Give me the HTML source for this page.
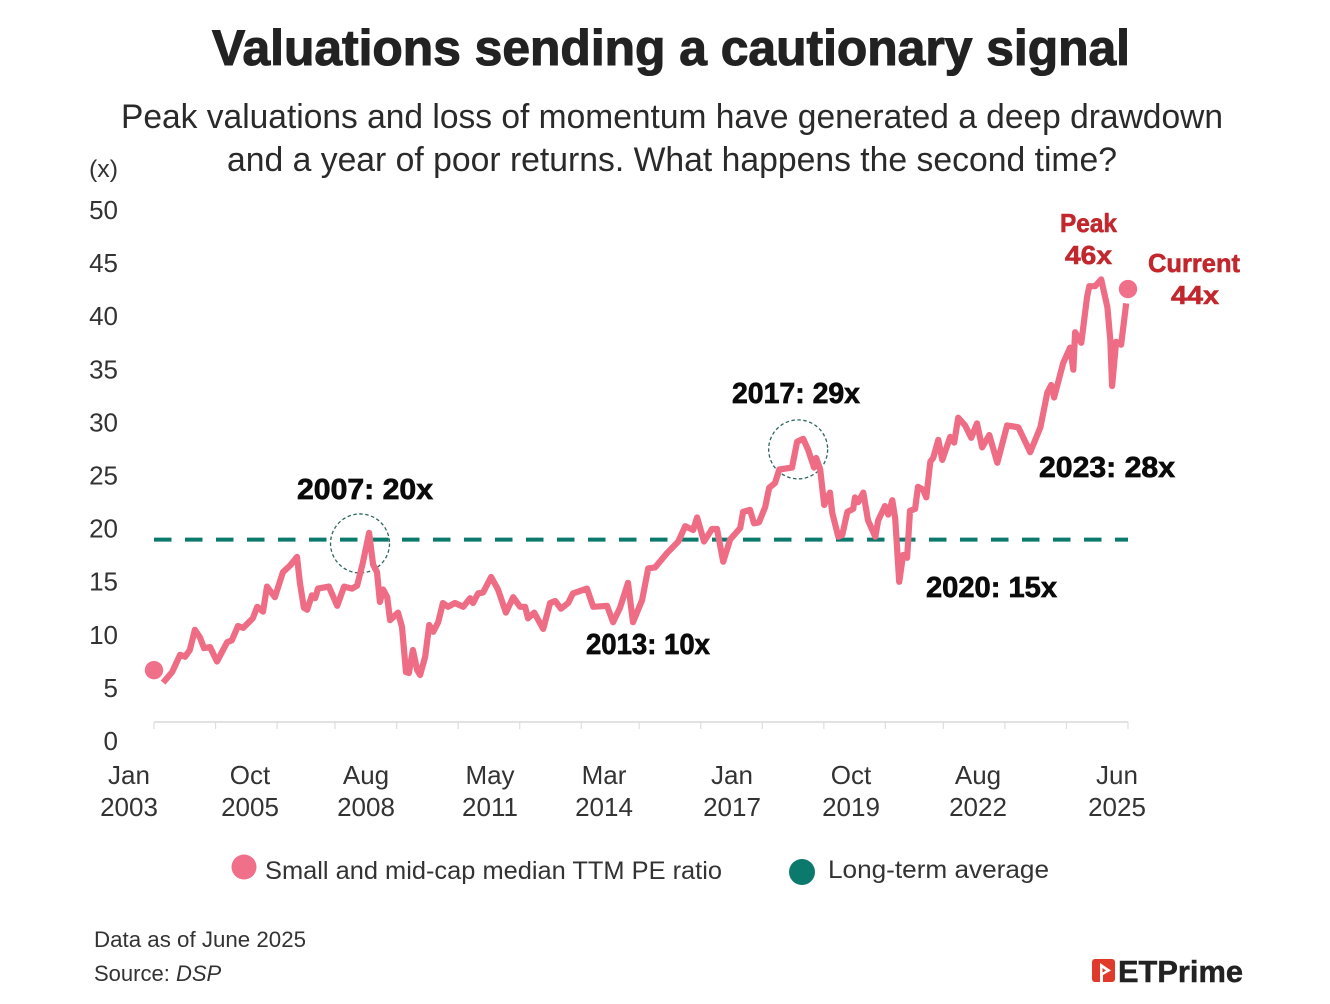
<!DOCTYPE html>
<html lang="en">
<head>
<meta charset="utf-8">
<title>Valuations sending a cautionary signal</title>
<style>
  html, body { margin: 0; padding: 0; background: #fff; }
  body { width: 1330px; height: 1004px; overflow: hidden; }
  svg { display: block; font-family: "Liberation Sans", sans-serif; }
  .tick { font-size: 26px; fill: #333; }
  .note { font-size: 29px; font-weight: 700; fill: #0b0b0b; stroke: #0b0b0b; stroke-width: 0.7px; }
  .red { font-size: 26px; font-weight: 700; fill: #c1272d; stroke: #c1272d; stroke-width: 0.6px; }
</style>
</head>
<body>
<svg id="chart" xmlns="http://www.w3.org/2000/svg" width="1330" height="1004" viewBox="0 0 1330 1004">
  <text x="212" y="65" textLength="918" lengthAdjust="spacingAndGlyphs" font-size="50" font-weight="700" fill="#222" stroke="#222" stroke-width="1.1">Valuations sending a cautionary signal</text>
  <text x="121" y="128" textLength="1102" lengthAdjust="spacingAndGlyphs" font-size="34" fill="#2a2a2a">Peak valuations and loss of momentum have generated a deep drawdown</text>
  <text x="227" y="171" textLength="890" lengthAdjust="spacingAndGlyphs" font-size="34" fill="#2a2a2a">and a year of poor returns. What happens the second time?</text>
  <text x="89" y="177" textLength="29" lengthAdjust="spacingAndGlyphs" font-size="24" fill="#333">(x)</text>

  <g id="y-labels"></g>
  <g id="axis"></g>
  <g id="marks"></g>

  <g text-anchor="middle" class="tick">
    <text class="tick" x="129" y="784">Jan</text>
    <text class="tick" x="129" y="816">2003</text>
    <text class="tick" x="250" y="784">Oct</text>
    <text class="tick" x="250" y="816">2005</text>
    <text class="tick" x="366" y="784">Aug</text>
    <text class="tick" x="366" y="816">2008</text>
    <text class="tick" x="490" y="784">May</text>
    <text class="tick" x="490" y="816">2011</text>
    <text class="tick" x="604" y="784">Mar</text>
    <text class="tick" x="604" y="816">2014</text>
    <text class="tick" x="732" y="784">Jan</text>
    <text class="tick" x="732" y="816">2017</text>
    <text class="tick" x="851" y="784">Oct</text>
    <text class="tick" x="851" y="816">2019</text>
    <text class="tick" x="978" y="784">Aug</text>
    <text class="tick" x="978" y="816">2022</text>
    <text class="tick" x="1117" y="784">Jun</text>
    <text class="tick" x="1117" y="816">2025</text>
  </g>

  <text class="note" x="297" y="499" textLength="136" lengthAdjust="spacingAndGlyphs">2007: 20x</text>
  <text class="note" x="732" y="403" textLength="128" lengthAdjust="spacingAndGlyphs">2017: 29x</text>
  <text class="note" x="586" y="654" textLength="124" lengthAdjust="spacingAndGlyphs">2013: 10x</text>
  <text class="note" x="926" y="597" textLength="131" lengthAdjust="spacingAndGlyphs">2020: 15x</text>
  <text class="note" x="1039" y="477" textLength="136" lengthAdjust="spacingAndGlyphs">2023: 28x</text>
  <text class="red" x="1060" y="232" textLength="57" lengthAdjust="spacingAndGlyphs">Peak</text>
  <text class="red" x="1065" y="264" textLength="47" lengthAdjust="spacingAndGlyphs">46x</text>
  <text class="red" x="1148" y="272" textLength="92" lengthAdjust="spacingAndGlyphs">Current</text>
  <text class="red" x="1171" y="304" textLength="48" lengthAdjust="spacingAndGlyphs">44x</text>

  <g>
    <circle cx="244" cy="867" r="12.5" fill="#f0708a"/>
    <text x="265" y="879" textLength="457" lengthAdjust="spacingAndGlyphs" font-size="25" fill="#333">Small and mid-cap median TTM PE ratio</text>
    <circle cx="802" cy="872" r="13" fill="#0b7a6c"/>
    <text x="828" y="878" textLength="221" lengthAdjust="spacingAndGlyphs" font-size="25" fill="#333">Long-term average</text>
  </g>

  <text x="94" y="947" textLength="212" lengthAdjust="spacingAndGlyphs" font-size="22" fill="#333">Data as of June 2025</text>
  <text x="94" y="981" font-size="22" fill="#333">Source: <tspan font-style="italic">DSP</tspan></text>

  <g>
    <rect x="1092" y="959" width="23" height="23" rx="3" fill="#e03a2a"/>
    <path d="M1100 963 L1111 970.5 L1103 975 L1103 982 L1100 982 Z M1102.5 968 L1102.5 972.5 L1106 970.5 Z" fill="#fff" fill-rule="evenodd"/>
    <text x="1118" y="982" textLength="125" lengthAdjust="spacingAndGlyphs" font-size="31" font-weight="700" fill="#222" stroke="#222" stroke-width="0.5">ETPrime</text>
  </g>
</svg>

<script>
// Months elapsed since Jan 2003 for each reading of the series
const seriesMonths = [2.5,5,7.2,8.6,9.9,11.3,12.7,13.8,15.5,17.4,20.2,21.5,23.2,24.6,27.3,28.5,30.1,31.2,33.4,35.6,37.6,39.5,40.3,41.4,42.3,43.6,44.5,45.3,48.3,50.6,52.5,54.7,56.1,57.7,59.4,60.5,61.6,62.4,63.3,64.4,65.2,67.4,68.5,69.6,70.4,71.5,72.7,73.5,74.9,76,77.1,78.5,79.8,81.2,83.1,85.4,87.3,88.1,89.5,90.9,93.1,95,97.2,99.2,101.1,102.5,103.3,105,107.5,109.4,110.8,112.4,114.4,115.7,119.6,121.3,125.1,126.8,128.7,130.9,132.3,134.8,136.5,138.4,141.7,144.8,146.7,148.9,150,151.9,154.1,155.5,157.2,159.1,161.9,162.7,164.6,165.7,167.1,168.8,169.9,171.5,172.7,176.2,177.6,179.3,180.7,182.3,182.9,184,185.1,186.7,187.3,189,190.1,191.5,193.1,193.6,194.5,195.9,197.2,199.2,200,201.9,202.8,203.9,204.7,205.8,206.9,208,208.8,210.2,211,212.4,213.3,214.4,215.2,216.6,217.7,219.9,221,222.1,224,225.7,227.3,228.7,230.7,232.9,235.6,238.7,240.1,242,244.8,246.7,247.8,248.6,251.1,253,253.9,254.4,256.1,257.7,258.3,259.9,261.6,263.3,264.1,264.6,265.7,267.1,268.5];
// Median TTM PE ratio at each of those months
const seriesPE = [4.1,5.2,7,6.8,7.5,9.6,8.8,7.7,7.8,6.3,8.3,8.5,10,9.8,10.8,12,11.5,14.1,13,15.6,16.3,17.2,14.5,11.9,11.7,13.2,12.9,13.9,14.1,12.1,14.1,13.9,14.2,16.6,19.7,16.4,15.6,12.5,13.8,13,10.6,11.4,9.9,5.2,5.1,7.5,5.4,4.9,6.8,10.1,9.4,10.4,12.4,12,12.4,12,12.9,12.4,13.4,13.5,15.1,13.8,11.4,13,12,12,10.8,11.4,9.7,12.4,12.6,11.8,12.4,13.4,13.9,12,12.1,10.4,11.9,14.5,10.4,12.7,16,16.1,17.6,18.8,20.4,20,21.3,18.8,20.1,20.1,16.7,19,20.2,21.9,22.1,20.7,20.8,22.4,24.4,24.9,26.3,26.5,29.2,29.5,28.3,26.5,27.5,26.3,22.6,23.9,21.8,19.3,19.5,21.9,22.2,23.4,22.9,23.9,21,19.3,21,22.5,21.6,23.1,21.2,14.6,17.4,17.1,22,22.2,24.5,24.2,23.4,27.1,27.5,29.4,27.3,29.7,29.1,31.7,30.9,29.6,31.1,28.6,29.9,27,30.9,30.7,29.6,28.1,30.7,34.3,35.1,33.8,37.4,39,36.7,40.6,39.5,44.3,45.4,45.4,46.1,43.2,39.8,35,39.6,39.3,43.6];
// Long-term average PE, drawn across the whole period
const averagePE = [19];
const averageMonths = [0, 269];
// Endpoint markers: month and PE value
const endpointMonths = [0, 269];
const endpointPE = [5.4, 45.1];
// Dashed highlight circles: month and PE value at their centres
const highlightMonths = [56.9, 177.9];
const highlightPE = [18.6, 28.4];
// Axis ticks
const yTickValues = [0, 5, 10, 15, 20, 25, 30, 35, 40, 45, 50];
const xTickMonths = [0, 17, 34, 50, 67, 84, 101, 118, 134, 151, 168, 185, 202, 218, 235, 252, 269];

const SVG_NS = 'http://www.w3.org/2000/svg';
const xScale = function (m) { return 154 + m * 974 / 269; };
const yScale = function (v) { return 722 - v * 9.6; };
const yLabelPos = function (v) { return 750 - v * 10.62; };

const axisG = document.getElementById('axis');
const marksG = document.getElementById('marks');
const yLabelsG = document.getElementById('y-labels');

yTickValues.forEach(function (v) {
  const t = document.createElementNS(SVG_NS, 'text');
  
  
  t.setAttribute('class', 'tick');
  t.setAttribute('x', 118);
  t.setAttribute('y', yLabelPos(v));
  t.setAttribute('text-anchor', 'end');
  t.textContent = String(v);
  yLabelsG.appendChild(t);
});

const baseline = document.createElementNS(SVG_NS, 'line');


baseline.setAttribute('x1', xScale(0));
baseline.setAttribute('x2', xScale(269));
baseline.setAttribute('y1', yScale(0));
baseline.setAttribute('y2', yScale(0));
baseline.setAttribute('stroke', '#d9d9d9');
baseline.setAttribute('stroke-width', '1.5');
axisG.appendChild(baseline);

xTickMonths.forEach(function (m) {
  const l = document.createElementNS(SVG_NS, 'line');
  
  
  l.setAttribute('x1', xScale(m));
  l.setAttribute('x2', xScale(m));
  l.setAttribute('y1', yScale(0));
  l.setAttribute('y2', yScale(0) + 7);
  l.setAttribute('stroke', '#dedede');
  l.setAttribute('stroke-width', '1.2');
  axisG.appendChild(l);
});

const avgLine = document.createElementNS(SVG_NS, 'line');


avgLine.setAttribute('x1', xScale(averageMonths[0]));
avgLine.setAttribute('x2', xScale(averageMonths[1]));
avgLine.setAttribute('y1', yScale(averagePE[0]));
avgLine.setAttribute('y2', yScale(averagePE[0]));
avgLine.setAttribute('stroke', '#0b7a6c');
avgLine.setAttribute('stroke-width', '4');
avgLine.setAttribute('stroke-dasharray', '17.5 13.5');
marksG.appendChild(avgLine);

highlightMonths.forEach(function (m, i) {
  const c = document.createElementNS(SVG_NS, 'circle');
  
  
  c.setAttribute('cx', xScale(m));
  c.setAttribute('cy', yScale(highlightPE[i]));
  c.setAttribute('r', 29.5);
  c.setAttribute('fill', 'none');
  c.setAttribute('stroke', '#2f6660');
  c.setAttribute('stroke-width', '1.3');
  c.setAttribute('stroke-dasharray', '3.5 2.5');
  marksG.appendChild(c);
});

const path = document.createElementNS(SVG_NS, 'path');


path.setAttribute('d', seriesMonths.map(function (m, i) {
  return (i ? 'L' : 'M') + xScale(m).toFixed(1) + ' ' + yScale(seriesPE[i]).toFixed(1);
}).join(' '));
path.setAttribute('fill', 'none');
path.setAttribute('stroke', '#ee6d85');
path.setAttribute('stroke-width', '6.2');
path.setAttribute('stroke-linejoin', 'round');
marksG.appendChild(path);

endpointMonths.forEach(function (m, i) {
  const d = document.createElementNS(SVG_NS, 'circle');
  
  
  d.setAttribute('cx', xScale(m));
  d.setAttribute('cy', yScale(endpointPE[i]));
  d.setAttribute('r', 9.2);
  d.setAttribute('fill', '#f0708a');
  marksG.appendChild(d);
});
</script>
</body>
</html>
